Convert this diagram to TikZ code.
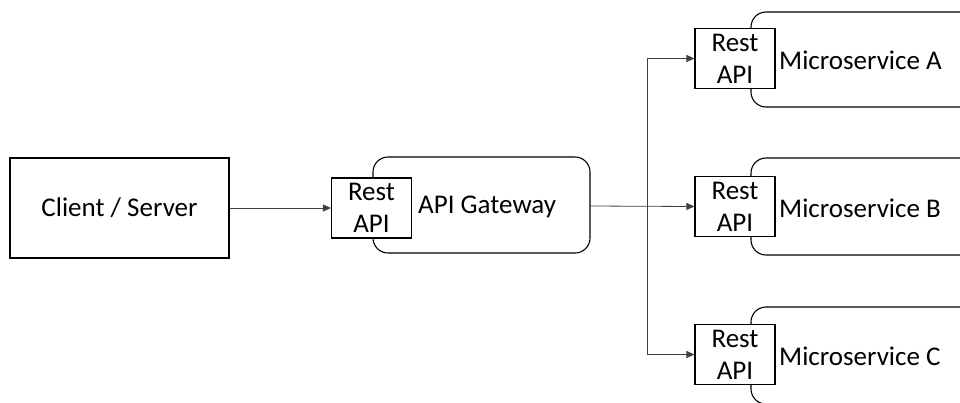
\documentclass[tikz,border=0pt]{standalone}
\usepackage{fontspec}
\setmainfont{Carlito}
\usetikzlibrary{arrows.meta}
\tikzset{
  box/.style={draw=black, line width=1.1pt, fill=white},
  service/.style={draw=black, line width=1.1pt, rounded corners=15pt, fill=white},
  label/.style={font=\fontsize{27}{32}\selectfont, inner sep=0pt, anchor=west},
  apibox/.style={box, minimum width=80pt, minimum height=60pt, inner sep=0pt,
    align=center, font=\fontsize{27}{32}\selectfont},
  link/.style={draw=black!75, line width=0.8pt, -{Triangle[length=8pt,width=7pt]}},
}
\begin{document}
\begin{tikzpicture}[x=1pt, y=-1pt]
  \useasboundingbox (0,0) rectangle (960,402);
  \clip (0,0) rectangle (960,402);

  % client
  \node[box, minimum width=219pt, minimum height=100pt, inner sep=0pt,
        font=\fontsize{27}{32}\selectfont] (client) at (119.5,208) {Client / Server};

  % gateway
  \draw[service] (373,157) rectangle (590,253);
  \node[apibox] (gwapi) at (371.5,208) {Rest\\API};
  \node[label] (gw) at (418,207) {API Gateway};
  \coordinate (gwout) at (590,206);

  % microservices
  \draw[service] (751,12) rectangle (1000,107);
  \node[apibox] (apiA) at (735,58.5) {Rest\\API};
  \node[label] (msA) at (779,60) {Microservice A};

  \draw[service] (751,158) rectangle (1000,255);
  \node[apibox] (apiB) at (735,206.5) {Rest\\API};
  \node[label] (msB) at (779,208) {Microservice B};

  \draw[service] (751,307) rectangle (1000,404);
  \node[apibox] (apiC) at (735,354.5) {Rest\\API};
  \node[label] (msC) at (779,356) {Microservice C};

  % connectors
  \coordinate (bus) at (647,208);
  \draw[link] (client.east) -- (gwapi.west);
  \draw[link] (gwout) -- (apiB.west);
  \draw[link] (bus) -- (bus |- apiA.west) -- (apiA.west);
  \draw[link] (bus) -- (bus |- apiC.west) -- (apiC.west);
\end{tikzpicture}
\end{document}
